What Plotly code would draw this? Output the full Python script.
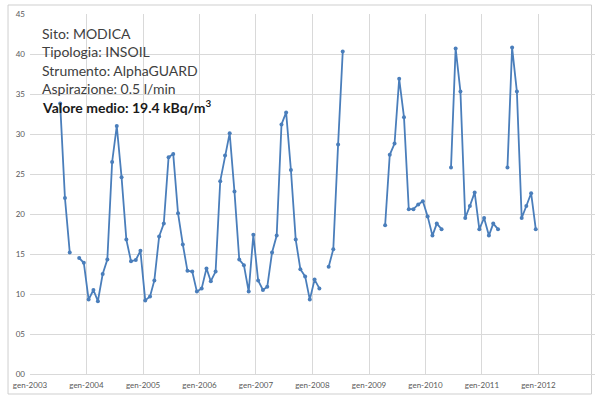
import pandas as pd
import plotly.graph_objects as go

# ---- data (monthly values, kBq/m3; None = missing month) ----
start_month = "2003-07-01"
values_2003 = [33.8, 22.0, 15.2, None, 14.5, 13.9]                       # Jul-Dec
values_2004 = [9.3, 10.5, 9.1, 12.5, 14.3, 26.5, 31.0, 24.6, 16.8, 14.1, 14.25, 15.4]
values_2005 = [9.2, 9.7, 11.7, 17.2, 18.8, 27.1, 27.5, 20.1, 16.2, 12.9, 12.8, 10.3]
values_2006 = [10.7, 13.2, 11.6, 12.8, 24.1, 27.3, 30.1, 22.8, 14.3, 13.6, 10.3, 17.4]
values_2007 = [11.7, 10.5, 10.9, 15.2, 17.3, 31.2, 32.7, 25.5, 16.8, 13.1, 12.2, 9.3]
values_2008 = [11.8, 10.7, None, 13.4, 15.6, 28.7, 40.3, None, None, None, None, None]
values_2009 = [None, None, None, 18.6, 27.4, 28.8, 36.9, 32.1, 20.6, 20.6, 21.2, 21.6]
values_2010 = [19.7, 17.3, 18.8, 18.1, None, 25.8, 40.7, 35.3, 19.5, 21.0, 22.7, 18.1]
values_2011 = [19.5, 17.3, 18.8, 18.1, None, 25.8, 40.8, 35.3, 19.5, 21.0, 22.6, 18.1]

values = (values_2003 + values_2004 + values_2005 + values_2006 + values_2007
          + values_2008 + values_2009 + values_2010 + values_2011)
dates = pd.date_range(start_month, periods=len(values), freq="MS") + pd.Timedelta(days=14)

info_lines = ["Sito: MODICA", "Tipologia: INSOIL", "Strumento: AlphaGUARD",
              "Aspirazione: 0.5 l/min"]
mean_line = "<b>Valore medio: 19.4 kBq/m<sup>3</sup></b>"

W, H = 597, 400
L, R, T, B = 30, 1.5, 14, 26
pw, ph = W - L - R, H - T - B

def px_x(p):
    return (p - L) / pw

def px_y(p):
    return (H - B - p) / ph

fig = go.Figure()
fig.add_trace(go.Scatter(
    x=dates, y=values, mode="lines+markers",
    line=dict(color="#4a7ebb", width=1.8),
    marker=dict(color="#4a7ebb", size=4),
    connectgaps=False, showlegend=False, hoverinfo="x+y"))

# text block
ys = [33, 51.5, 70, 88]
for txt, yy in zip(info_lines, ys):
    fig.add_annotation(x=px_x(40), y=px_y(yy), xref="paper", yref="paper",
                       text=txt, showarrow=False, xanchor="left", yanchor="middle",
                       font=dict(family="Lato, Open Sans, sans-serif", size=14, color="#404040"))
fig.add_annotation(x=px_x(40), y=px_y(106), xref="paper", yref="paper",
                   text=mean_line, showarrow=False, xanchor="left", yanchor="middle",
                   font=dict(family="Lato, Open Sans, sans-serif", size=14, color="#1a1a1a"))

# outer chart frame
fig.add_shape(type="rect", xref="paper", yref="paper",
              x0=px_x(8), x1=px_x(592), y0=px_y(394), y1=px_y(5),
              line=dict(color="#cfcfcf", width=1), fillcolor="rgba(0,0,0,0)", layer="below")

fig.update_layout(
    width=W, height=H,
    margin=dict(l=L, r=R, t=T, b=B, pad=0, autoexpand=False),
    paper_bgcolor="white", plot_bgcolor="white",
    font=dict(family="Lato, Open Sans, sans-serif"),
    xaxis=dict(type="date", range=["2003-01-01", "2013-01-01"], automargin=False,
               tick0="2003-01-01", dtick="M12", tickformat="gen-%Y",
               showgrid=True, gridcolor="#d9d9d9", gridwidth=1,
               zeroline=False, showline=True, linecolor="#d9d9d9",
               tickfont=dict(size=8, color="#595959"), ticks="",
               ticklabelstandoff=3),
    yaxis=dict(range=[0, 45], dtick=5, tick0=0, tickformat="02d", automargin=False,
               showgrid=True, gridcolor="#d9d9d9", gridwidth=1,
               zeroline=False, showline=False,
               tickfont=dict(size=8, color="#595959"), ticks="",
               ticklabelstandoff=4),
)

fig.write_html("out.html", config={"displayModeBar": False},
               post_script="document.body.style.margin='0';document.body.style.overflow='hidden';")
